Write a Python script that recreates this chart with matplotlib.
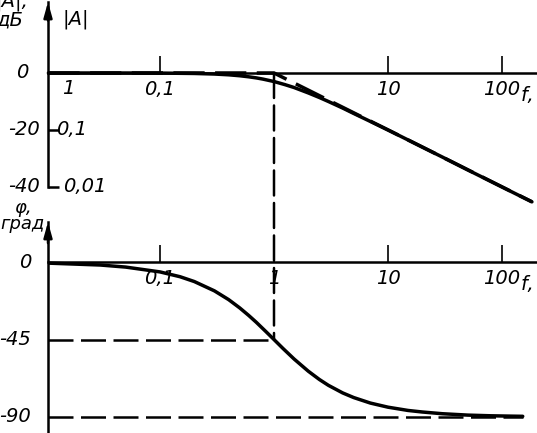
import numpy as np
import matplotlib
matplotlib.use("Agg")
import matplotlib.pyplot as plt
from matplotlib.patches import ConnectionPatch
import matplotlib.transforms as mtransforms

# ---- data ----
freq_mag = [0.0105, 0.05, 0.1, 0.2, 0.3, 0.4, 0.5, 0.6, 0.7, 0.8, 1.0, 1.25, 1.5, 2.0, 2.5,
            3.0, 4.0, 5.0, 7.0, 10.0, 15.0, 20.0, 30.0, 50.0, 70.0, 100.0, 140.0, 183.0]
mag_db = [0.0, -0.01, -0.04, -0.17, -0.37, -0.64, -0.97, -1.34, -1.73, -2.15, -3.0, -4.1,
          -5.1, -7.0, -8.6, -10.0, -12.3, -14.2, -17.0, -20.0, -23.5, -26.0, -29.5, -34.0,
          -36.9, -40.0, -42.9, -45.2]
freq_asym = [0.0105, 1.0, 183.0]
asym_db = [0.0, 0.0, -45.2]

freq_ph = [0.0105, 0.03, 0.05, 0.1, 0.15, 0.2, 0.3, 0.4, 0.5, 0.6, 0.7, 0.85, 1.0, 1.2, 1.5,
           2.0, 2.5, 3.0, 4.0, 5.0, 7.0, 10.0, 15.0, 20.0, 30.0, 50.0, 80.0, 120.0, 152.0]
phase_deg = [-0.6, -1.7, -2.9, -5.7, -8.5, -11.3, -16.7, -21.8, -26.6, -31.0, -35.0, -40.4,
             -45.0, -50.2, -56.3, -63.4, -68.2, -71.6, -76.0, -78.7, -81.9, -84.3, -86.2,
             -87.1, -88.1, -88.9, -89.3, -89.5, -89.6]

mag_ticks = [0.1, 10, 100]
mag_tick_labels = ["0,1", "10", "100"]
ph_ticks = [0.1, 1, 10, 100]
ph_tick_labels = ["0,1", "1", "10", "100"]
db_labels = [(0, "0"), (-20, "-20"), (-40, "-40")]
abs_labels = [(0, "1"), (-20, "0,1"), (-40, "0,01")]
deg_labels = [(0, "0"), (-45, "-45"), (-90, "-90")]
guide_deg = [-45, -90]

# ---- figure ----
W, H = 537, 433
fig = plt.figure(figsize=(W / 100, H / 100), dpi=100)
FONT = dict(family=["Liberation Sans Narrow", "DejaVu Sans"], style="italic", size=14)

def fy(py):
    return 1 - py / H

x0 = 48
def px2f(px):
    return 10 ** ((px - 274) / 114)

xlim = (px2f(x0), px2f(W))
LW_AX = 1.8
LW_C = 2.5
DASH = (10, 3)

ax1 = fig.add_axes([x0 / W, fy(187), 1 - x0 / W, (187 - 2) / H])
ax2 = fig.add_axes([x0 / W, 0, 1 - x0 / W, (433 - 222) / H])

for ax in (ax1, ax2):
    ax.set_xscale("log")
    ax.set_xlim(*xlim)
    ax.patch.set_visible(False)
    for s in ("top", "right"):
        ax.spines[s].set_visible(False)
    ax.spines["left"].set_linewidth(LW_AX)
    ax.spines["bottom"].set_position(("data", 0))
    ax.spines["bottom"].set_linewidth(LW_AX)
    ax.xaxis.set_minor_locator(matplotlib.ticker.NullLocator())
    ax.tick_params(axis="x", direction="in", length=12, width=1.2, pad=5)
    ax.tick_params(axis="y", direction="in", length=8, width=LW_AX, labelleft=False)
    ax.annotate("", xy=(0, 1.0), xytext=(0, 0.9), xycoords="axes fraction",
                arrowprops=dict(arrowstyle="-|>,head_length=0.9,head_width=0.25",
                                color="black", lw=LW_AX, shrinkA=0, shrinkB=0),
                annotation_clip=False)

ax1.set_ylim(-40, 24.9)
ax2.set_ylim(-99.3, 23.3)

# magnitude
ax1.plot(freq_mag, mag_db, color="black", lw=LW_C, solid_capstyle="round", clip_on=False)
ax1.plot(freq_asym, asym_db, color="black", lw=LW_C, dashes=(9, 3), clip_on=False)
ax1.set_xticks(mag_ticks)
ax1.set_xticklabels(mag_tick_labels, fontdict=FONT)
ax1.set_yticks([-20, -40])

bt1 = mtransforms.blended_transform_factory(ax1.transAxes, ax1.transData)
db_x = {"0": -0.04, "-20": -0.016, "-40": -0.016}
for v, s in db_labels:
    ax1.text(db_x[s], v, s, transform=bt1, ha="right", va="center", fontdict=FONT)
ax1.text(0.028, -5.6, abs_labels[0][1], transform=bt1, ha="left", va="center", fontdict=FONT)
for v, s in abs_labels[1:]:
    ax1.text(0.016 if s == "0,1" else 0.03, v, s, transform=bt1, ha="left", va="center",
             fontdict=FONT)

# phase
ax2.plot(freq_ph, phase_deg, color="black", lw=LW_C, solid_capstyle="round")
ax2.plot([xlim[0], 1.0], [guide_deg[0]] * 2, color="black", lw=LW_AX, dashes=DASH)
ax2.plot([xlim[0], 152.0], [guide_deg[1]] * 2, color="black", lw=LW_AX, dashes=DASH)
ax2.set_xticks(ph_ticks)
ax2.set_xticklabels(ph_tick_labels, fontdict=FONT)
ax2.set_yticks([])
bt2 = mtransforms.blended_transform_factory(ax2.transAxes, ax2.transData)
deg_x = {"0": -0.033, "-45": -0.036, "-90": -0.036}
for v, s in deg_labels:
    ax2.text(deg_x[s], v, s, transform=bt2, ha="right", va="center", fontdict=FONT)

# vertical dashed line at the corner frequency
con = ConnectionPatch(xyA=(1.0, 0), coordsA=ax1.transData,
                      xyB=(1.0, -45), coordsB=ax2.transData,
                      color="black", lw=LW_AX, linestyle=(0, DASH))
fig.add_artist(con)

# labels
fig.text(521 / W, fy(95), "f, Гц", ha="left", va="center", fontdict=FONT)
fig.text(521 / W, fy(284), "f, Гц", ha="left", va="center", fontdict=FONT)
fig.text(-4 / W, fy(29), "|A|,\nдБ", ha="left", va="bottom", fontdict=FONT, linespacing=0.95)
fig.text(63 / W, fy(19), "|A|", ha="left", va="center", fontdict=FONT)
PH_FONT = dict(FONT, size=13)
fig.text(23 / W, fy(216), "φ,\nград", ha="center", va="center", fontdict=PH_FONT,
         linespacing=0.8)

fig.savefig("out.png", dpi=100)
